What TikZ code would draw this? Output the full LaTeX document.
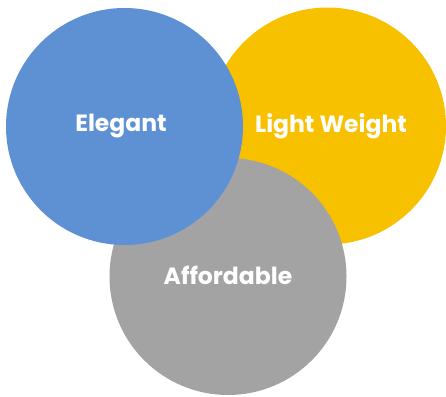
\documentclass[tikz,border=0pt]{standalone}
\usepackage{fontspec}
\setmainfont{Poppins}[UprightFont=* SemiBold,BoldFont=* Bold]
\definecolor{elegblue}{HTML}{5E91D3}
\definecolor{lightgold}{HTML}{F8C100}
\definecolor{affgray}{HTML}{A3A3A4}
\begin{document}
\begin{tikzpicture}[x=1pt,y=-1pt,font=\fontsize{23.5}{26}\selectfont\bfseries]
	\useasboundingbox (0,0) rectangle (446,396);
	\fill[lightgold] (327.5,126) circle (118.5);
	\fill[affgray] (228,276.5) circle (118.5);
	\fill[elegblue] (124.5,126.5) circle (118.5);
	\node[white] (elegant) at (121,126) {Elegant};
	\node[white] (weight) at (331,126) {Light Weight};
	\node[white] (afford) at (228,275) {Affordable};
\end{tikzpicture}
\end{document}
